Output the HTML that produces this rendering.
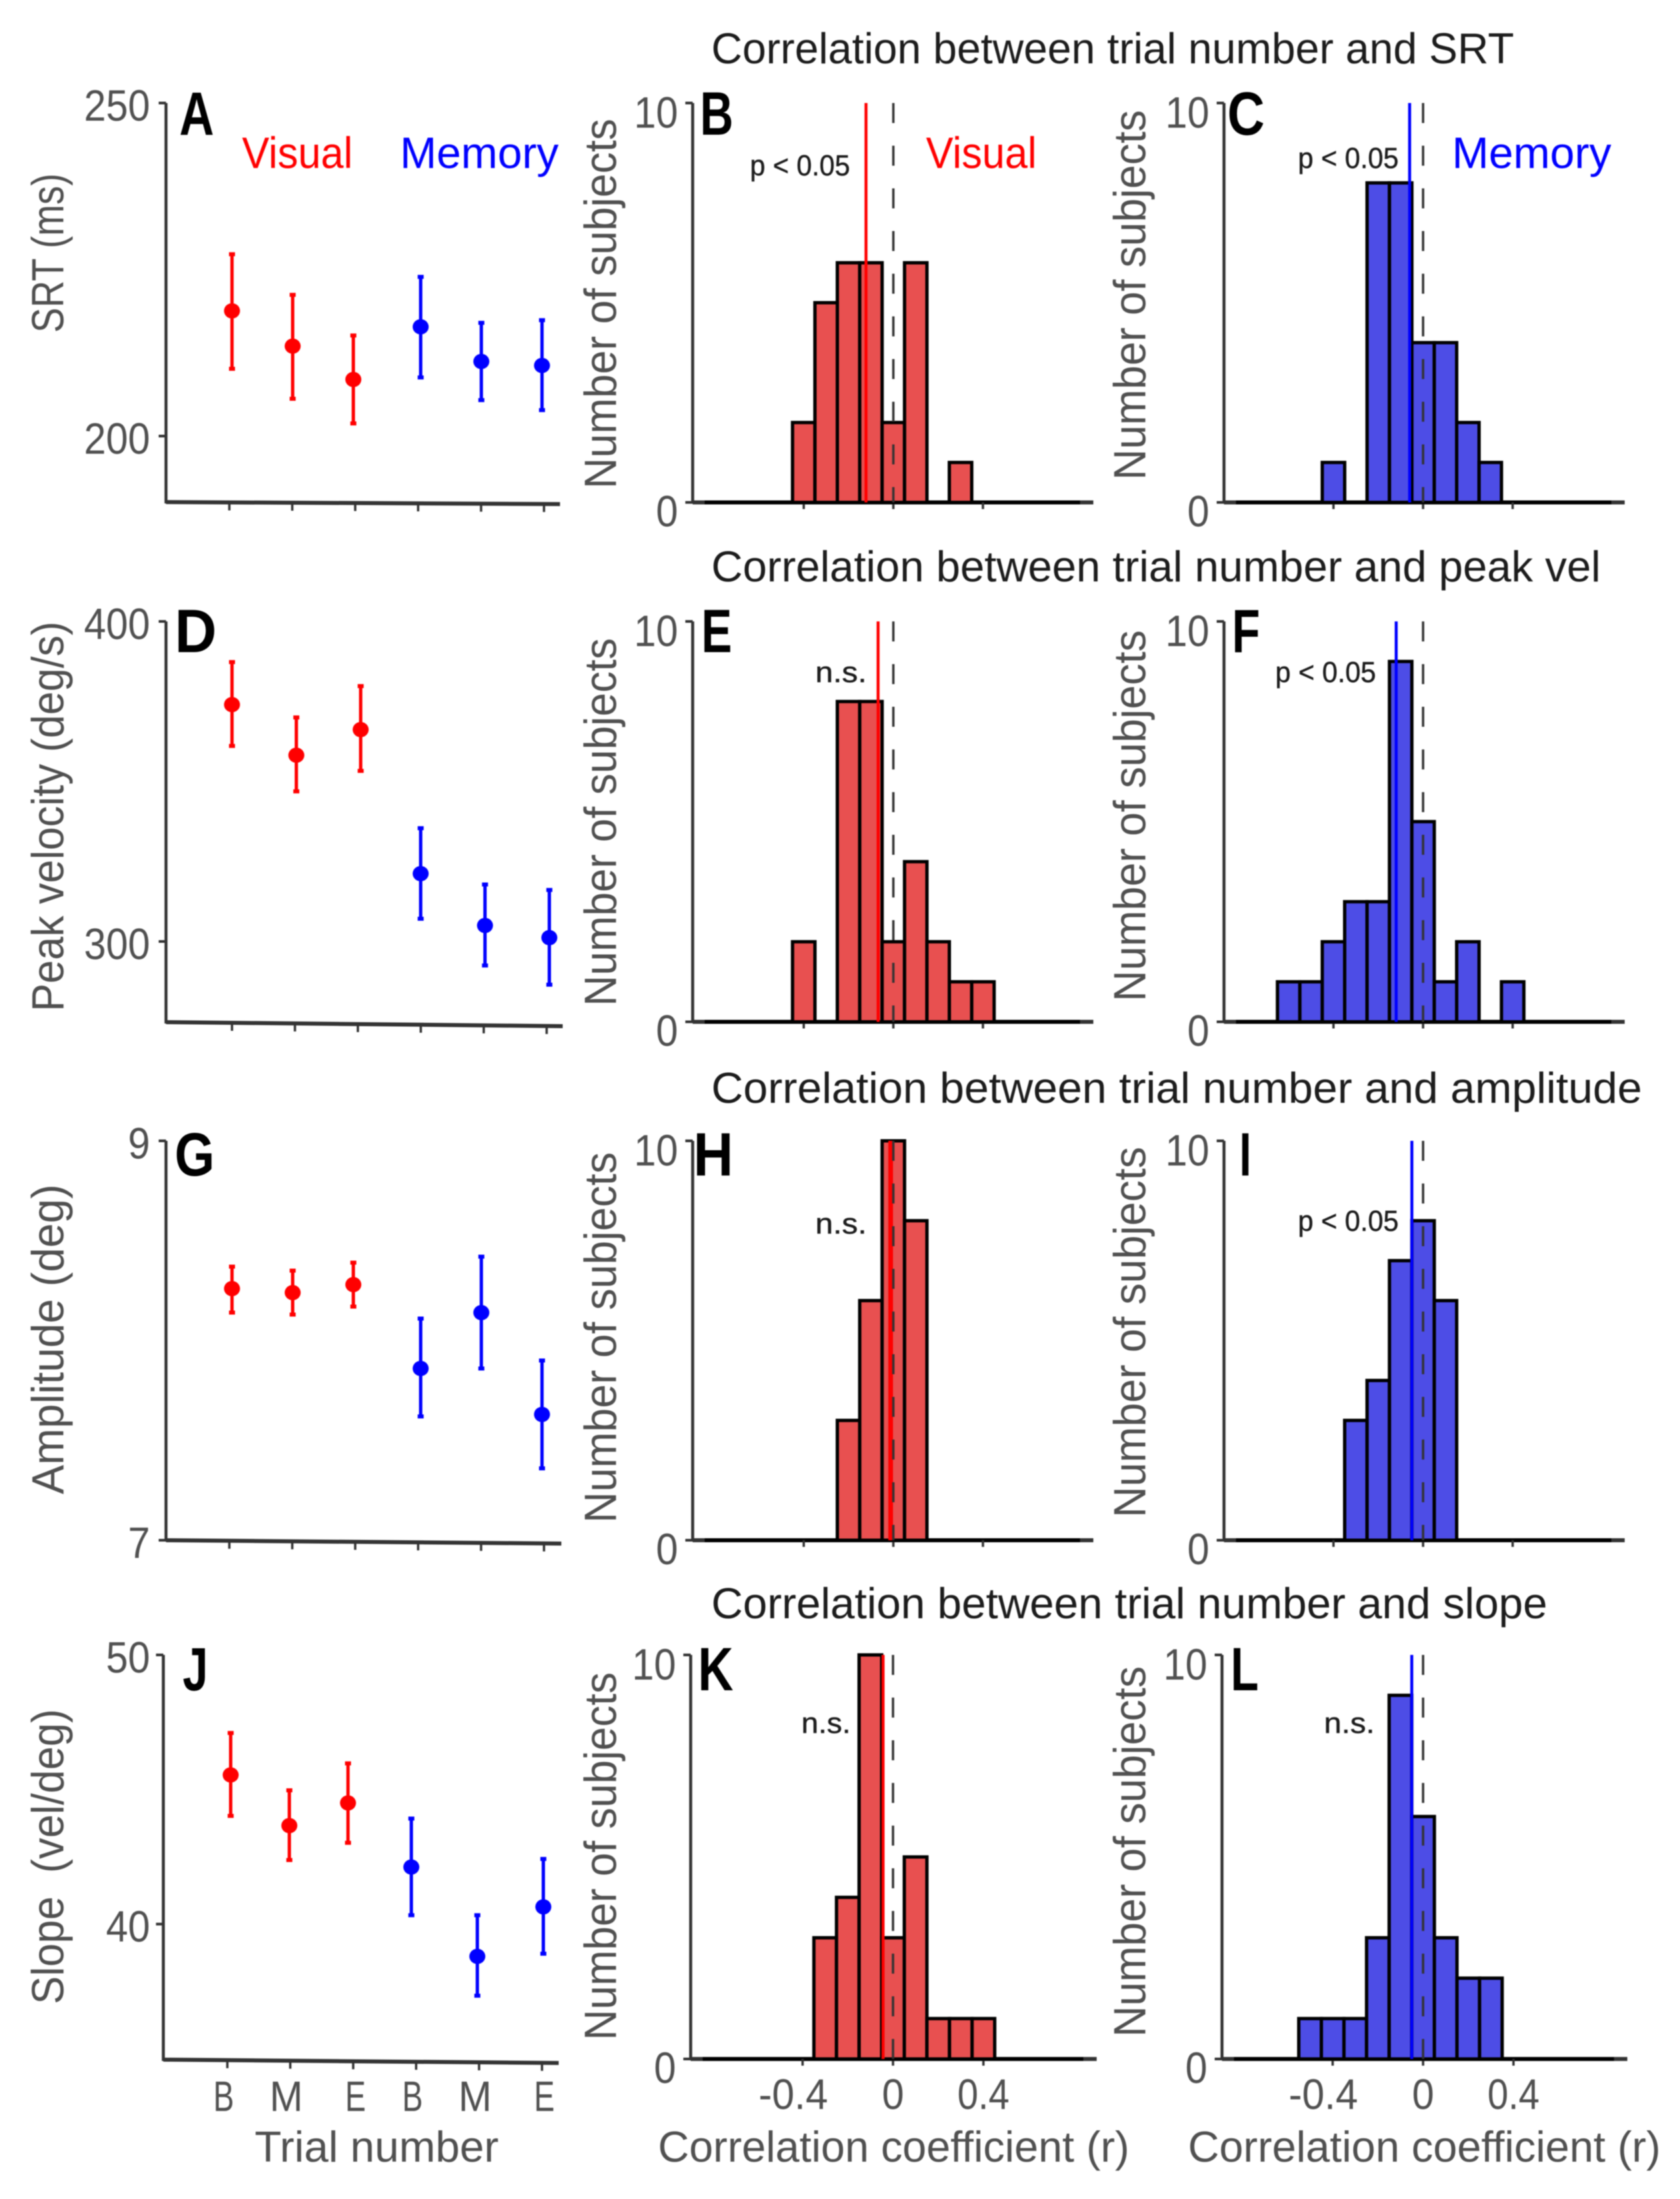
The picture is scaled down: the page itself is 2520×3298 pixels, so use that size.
<!DOCTYPE html>
<html lang="en">
<head>
<meta charset="utf-8">
<title>Correlation between trial number and saccade metrics</title>
<style>
html,body{margin:0;padding:0;background:#fff;}
svg{display:block;filter:blur(0.7px);}
text{font-family:"Liberation Sans",sans-serif;white-space:pre;}
.title{font-size:65px;fill:#1c1c1c;}
.ylab{font-size:68px;fill:#505050;}
.xlab{font-size:65px;fill:#505050;}
.letter{font-size:92px;font-weight:bold;fill:#000;}
.vis{font-size:66px;fill:#f00;}
.mem{font-size:66px;fill:#00f;}
.sig{font-size:44px;fill:#1c1c1c;stroke:#1c1c1c;stroke-width:0.5px;}
</style>
</head>
<body>
<svg id="figure" xmlns="http://www.w3.org/2000/svg" width="2520" height="3298" viewBox="0 0 2520 3298">
<rect x="0" y="0" width="2520" height="3298" fill="#fff"/>
<g id="marks"></g>

<text class="title" x="1067" y="95" textLength="1204" lengthAdjust="spacingAndGlyphs">Correlation between trial number and SRT</text>
<text class="title" x="1067" y="872" textLength="1334" lengthAdjust="spacingAndGlyphs">Correlation between trial number and peak vel</text>
<text class="title" x="1067" y="1654" textLength="1396" lengthAdjust="spacingAndGlyphs">Correlation between trial number and amplitude</text>
<text class="title" x="1067" y="2427" textLength="1254" lengthAdjust="spacingAndGlyphs">Correlation between trial number and slope</text>

<text class="ylab" transform="translate(95,499) rotate(-90)" textLength="239" lengthAdjust="spacingAndGlyphs">SRT (ms)</text>
<text class="ylab" transform="translate(95,1517) rotate(-90)" textLength="585" lengthAdjust="spacingAndGlyphs">Peak velocity (deg/s)</text>
<text class="ylab" transform="translate(95,2241) rotate(-90)" textLength="465" lengthAdjust="spacingAndGlyphs">Amplitude (deg)</text>
<text class="ylab" transform="translate(95,3006) rotate(-90)" textLength="443" lengthAdjust="spacingAndGlyphs">Slope  (vel/deg)</text>

<text class="ylab" transform="translate(924,733) rotate(-90)" textLength="555" lengthAdjust="spacingAndGlyphs">Number of subjects</text>
<text class="ylab" transform="translate(1718,720) rotate(-90)" textLength="555" lengthAdjust="spacingAndGlyphs">Number of subjects</text>
<text class="ylab" transform="translate(924,1509) rotate(-90)" textLength="552" lengthAdjust="spacingAndGlyphs">Number of subjects</text>
<text class="ylab" transform="translate(1718,1502) rotate(-90)" textLength="557" lengthAdjust="spacingAndGlyphs">Number of subjects</text>
<text class="ylab" transform="translate(924,2284) rotate(-90)" textLength="556" lengthAdjust="spacingAndGlyphs">Number of subjects</text>
<text class="ylab" transform="translate(1718,2276) rotate(-90)" textLength="556" lengthAdjust="spacingAndGlyphs">Number of subjects</text>
<text class="ylab" transform="translate(924,3060) rotate(-90)" textLength="552" lengthAdjust="spacingAndGlyphs">Number of subjects</text>
<text class="ylab" transform="translate(1718,3055) rotate(-90)" textLength="556" lengthAdjust="spacingAndGlyphs">Number of subjects</text>

<text class="xlab" x="382" y="3242" textLength="366" lengthAdjust="spacingAndGlyphs">Trial number</text>
<text class="xlab" x="987" y="3242" textLength="707" lengthAdjust="spacingAndGlyphs">Correlation coefficient (r)</text>
<text class="xlab" x="1782" y="3242" textLength="709" lengthAdjust="spacingAndGlyphs">Correlation coefficient (r)</text>

<text class="letter" x="269" y="202" textLength="52" lengthAdjust="spacingAndGlyphs">A</text>
<text class="letter" x="1050" y="202" textLength="50" lengthAdjust="spacingAndGlyphs">B</text>
<text class="letter" x="1841" y="202" textLength="56" lengthAdjust="spacingAndGlyphs">C</text>
<text class="letter" x="262" y="978" textLength="63" lengthAdjust="spacingAndGlyphs">D</text>
<text class="letter" x="1052" y="978" textLength="46" lengthAdjust="spacingAndGlyphs">E</text>
<text class="letter" x="1848" y="978" textLength="42" lengthAdjust="spacingAndGlyphs">F</text>
<text class="letter" x="262" y="1763" textLength="60" lengthAdjust="spacingAndGlyphs">G</text>
<text class="letter" x="1040" y="1763" textLength="60" lengthAdjust="spacingAndGlyphs">H</text>
<text class="letter" x="1859" y="1763" textLength="18" lengthAdjust="spacingAndGlyphs">I</text>
<text class="letter" x="274" y="2535" textLength="38" lengthAdjust="spacingAndGlyphs">J</text>
<text class="letter" x="1047" y="2535" textLength="53" lengthAdjust="spacingAndGlyphs">K</text>
<text class="letter" x="1846" y="2535" textLength="42" lengthAdjust="spacingAndGlyphs">L</text>

<text class="vis" x="363" y="252" textLength="166" lengthAdjust="spacingAndGlyphs">Visual</text>
<text class="mem" x="600" y="252" textLength="238" lengthAdjust="spacingAndGlyphs">Memory</text>
<text class="vis" x="1389" y="252" textLength="166" lengthAdjust="spacingAndGlyphs">Visual</text>
<text class="mem" x="2178" y="252" textLength="239" lengthAdjust="spacingAndGlyphs">Memory</text>

<text class="sig" x="1125" y="263" textLength="150" lengthAdjust="spacingAndGlyphs">p &lt; 0.05</text>
<text class="sig" x="1947" y="252" textLength="151" lengthAdjust="spacingAndGlyphs">p &lt; 0.05</text>
<text class="sig" x="1223" y="1023" textLength="77" lengthAdjust="spacingAndGlyphs">n.s.</text>
<text class="sig" x="1913" y="1023" textLength="151" lengthAdjust="spacingAndGlyphs">p &lt; 0.05</text>
<text class="sig" x="1223" y="1850" textLength="77" lengthAdjust="spacingAndGlyphs">n.s.</text>
<text class="sig" x="1947" y="1846" textLength="151" lengthAdjust="spacingAndGlyphs">p &lt; 0.05</text>
<text class="sig" x="1202" y="2599" textLength="74" lengthAdjust="spacingAndGlyphs">n.s.</text>
<text class="sig" x="1986" y="2599" textLength="76" lengthAdjust="spacingAndGlyphs">n.s.</text>
</svg>

<script>
// ---- Shared categories and tick labels ----
const trialCategories = ["B", "M", "E", "B", "M", "E"];
const trialConditions = ["Visual", "Visual", "Visual", "Memory", "Memory", "Memory"];
const countTicks = [10, 0];
const rTicks = [-0.4, 0, 0.4];
const rTickLabels = ["-0.4", "0", "0.4"];

// ---- Panel A: SRT ----
const srtTicks = [250, 200];
const srtMeans = [218.8, 213.5, 208.5, 216.4, 211.2, 210.6];
const srtHigh = [227.3, 221.2, 215.1, 223.9, 217.0, 217.4];
const srtLow = [210.1, 205.6, 201.9, 208.8, 205.4, 203.9];

// ---- Panel D: Peak velocity ----
const velTicks = [400, 300];
const velMeans = [374.0, 358.2, 366.2, 321.2, 305.0, 301.2];
const velHigh = [387.3, 370.0, 379.8, 335.4, 317.8, 316.1];
const velLow = [361.1, 346.9, 353.3, 307.1, 292.5, 286.5];

// ---- Panel G: Amplitude ----
const ampTicks = [9, 7];
const ampMeans = [8.26, 8.24, 8.28, 7.86, 8.14, 7.63];
const ampHigh = [8.37, 8.35, 8.39, 8.11, 8.42, 7.90];
const ampLow = [8.14, 8.13, 8.17, 7.62, 7.86, 7.36];

// ---- Panel J: Slope ----
const slopeTicks = [50, 40];
const slopeMeans = [45.54, 43.66, 44.50, 42.12, 38.80, 40.64];
const slopeHigh = [47.10, 44.97, 45.97, 43.92, 40.33, 42.42];
const slopeLow = [44.02, 42.38, 43.02, 40.33, 37.34, 38.90];

// ---- Histograms: bin centres (r), counts, mean r ----
const binsB = [-0.4, -0.3, -0.2, -0.1, 0, 0.1, 0.2, 0.3];
const countsB = [2, 5, 6, 6, 2, 6, 0, 1];
const meanB = -0.122;

const binsC = [-0.4, -0.3, -0.2, -0.1, 0, 0.1, 0.2, 0.3];
const countsC = [1, 0, 8, 8, 4, 4, 2, 1];
const meanC = -0.06;

const binsE = [-0.4, -0.3, -0.2, -0.1, 0, 0.1, 0.2, 0.3, 0.4];
const countsE = [2, 0, 8, 8, 2, 4, 2, 1, 1];
const meanE = -0.068;

const binsF = [-0.6, -0.5, -0.4, -0.3, -0.2, -0.1, 0, 0.1, 0.2, 0.3, 0.4];
const countsF = [1, 1, 2, 3, 3, 9, 5, 1, 2, 0, 1];
const meanF = -0.12;

const binsH = [-0.2, -0.1, 0, 0.1];
const countsH = [3, 6, 10, 8];
const meanH = -0.012;

const binsI = [-0.3, -0.2, -0.1, 0, 0.1];
const countsI = [3, 4, 7, 8, 6];
const meanI = -0.05;

const binsK = [-0.3, -0.2, -0.1, 0, 0.1, 0.2, 0.3, 0.4];
const countsK = [3, 4, 10, 3, 5, 1, 1, 1];
const meanK = -0.044;

const binsL = [-0.5, -0.4, -0.3, -0.2, -0.1, 0, 0.1, 0.2, 0.3];
const countsL = [1, 1, 1, 3, 9, 6, 3, 2, 2];
const meanL = -0.05;

const SVGNS = "http://www.w3.org/2000/svg";
const marks = document.getElementById("marks");
const AXIS_GRAY = "#333";
const LABEL_GRAY = "#505050";
const BIN_WIDTH = 0.1;

function addGroup(parent, name) {
  const el = document.createElementNS(SVGNS, "g");
  
  
  parent.appendChild(el);
  return el;
}

function addLine(parent, name, x1, y1, x2, y2, stroke, width, dash) {
  const el = document.createElementNS(SVGNS, "line");
  
  
  el.setAttribute("x1", x1);
  el.setAttribute("y1", y1);
  el.setAttribute("x2", x2);
  el.setAttribute("y2", y2);
  el.setAttribute("stroke", stroke);
  el.setAttribute("stroke-width", width);
  if (dash) el.setAttribute("stroke-dasharray", dash);
  parent.appendChild(el);
  return el;
}

function addRect(parent, name, x, y, w, h, fill) {
  const el = document.createElementNS(SVGNS, "rect");
  
  
  el.setAttribute("x", x);
  el.setAttribute("y", y);
  el.setAttribute("width", w);
  el.setAttribute("height", h);
  el.setAttribute("fill", fill);
  el.setAttribute("stroke", "#000");
  el.setAttribute("stroke-width", 5);
  parent.appendChild(el);
  return el;
}

function addDot(parent, name, cx, cy, rx, ry, fill) {
  const el = document.createElementNS(SVGNS, "ellipse");
  
  
  el.setAttribute("cx", cx);
  el.setAttribute("cy", cy);
  el.setAttribute("rx", rx);
  el.setAttribute("ry", ry);
  el.setAttribute("fill", fill);
  parent.appendChild(el);
  return el;
}

function labelWidth(str) {
  let w = 0;
  for (const ch of str) w += ch === "." ? 12 : ch === "-" ? 26 : 33;
  return w;
}

function addTickText(parent, name, str, x, y, size, width) {
  const el = document.createElementNS(SVGNS, "text");
  
  
  el.setAttribute("x", x);
  el.setAttribute("y", y);
  el.setAttribute("font-size", size);
  el.setAttribute("fill", LABEL_GRAY);
  el.setAttribute("textLength", width);
  el.setAttribute("lengthAdjust", "spacingAndGlyphs");
  el.textContent = str;
  parent.appendChild(el);
  return el;
}

function linearScale(v0, p0, v1, p1) {
  return v => p0 + (v - v0) * (p1 - p0) / (v1 - v0);
}

function categoryOffset(cat) {
  return cat === "M" ? -31 : cat === "E" ? -12 : -21;
}

function drawErrorPanel(name, cfg, ticks, means, high, low, showCategories) {
  const g = addGroup(marks, name);
  const y = linearScale(cfg.vHi, cfg.pxHi, cfg.vLo, cfg.pxLo);
  const baseAt = x => cfg.base + (x - cfg.axisX) * cfg.tilt / (cfg.endX - cfg.axisX);
  addLine(g, "y-axis", cfg.axisX, cfg.pxHi, cfg.axisX, cfg.base + 2, AXIS_GRAY, 4.5);
  addLine(g, "x-axis", cfg.axisX, cfg.base, cfg.endX, cfg.base + cfg.tilt, AXIS_GRAY, 6);
  ticks.forEach(v => {
    addLine(g, "y-tick", cfg.axisX - 11, y(v), cfg.axisX, y(v), AXIS_GRAY, 4);
    const s = String(v);
    const w = labelWidth(s);
    addTickText(g, "y-tick-label", s, 225 - w, y(v) + 26.5, 66, w);
  });
  trialCategories.forEach((cat, i) => {
    const tx = cfg.tickX0 + i * cfg.tickStep;
    addLine(g, "x-tick", tx, baseAt(tx), tx, baseAt(tx) + 12, AXIS_GRAY, 3.5);
    if (showCategories) {
      const w = cat === "M" ? 50 : 31;
      addTickText(g, "x-tick-label", cat, tx + categoryOffset(cat), 3166, 64, w);
    }
  });
  means.forEach((m, i) => {
    const isVisual = trialConditions[i] === "Visual";
    const color = isVisual ? "#f00" : "#00f";
    const px = isVisual ? cfg.visX0 + i * cfg.visStep : cfg.memX0 + (i - 3) * cfg.memStep;
    addLine(g, "error-bar", px, y(high[i]), px, y(low[i]), color, 5);
    addLine(g, "error-cap-high", px - 4.5, y(high[i]), px + 4.5, y(high[i]), color, 6);
    addLine(g, "error-cap-low", px - 4.5, y(low[i]), px + 4.5, y(low[i]), color, 6);
    addDot(g, "mean-point", px, y(m), 12, 11.5, color);
  });
}

function drawHistogram(name, cfg, bins, counts, meanR, showXLabels) {
  const g = addGroup(marks, name);
  const x = linearScale(0, cfg.zeroX, 1, cfg.zeroX + cfg.rScale);
  const y = linearScale(0, cfg.base, 10, cfg.top);
  const fill = cfg.blue ? "#4d4de6" : "#e85050";
  const meanColor = cfg.blue ? "#00f" : "#f00";
  addLine(g, "y-axis", cfg.axisX, cfg.top, cfg.axisX, cfg.base, AXIS_GRAY, 4.5);
  addLine(g, "x-axis", cfg.axisX, cfg.base, cfg.endX, cfg.base, AXIS_GRAY, 6);
  addLine(g, "x-axis-dark", cfg.axisX + 18, cfg.base, cfg.endX - 20, cfg.base, "#000", 6);
  countTicks.forEach(v => {
    addLine(g, "y-tick", cfg.axisX - 11, y(v), cfg.axisX, y(v), AXIS_GRAY, 4);
    const s = String(v);
    const w = labelWidth(s);
    addTickText(g, "y-tick-label", s, cfg.axisX - 22 - w, y(v) + (v === 0 ? 36 : 37), 66, w);
  });
  rTicks.forEach((r, i) => {
    addLine(g, "x-tick", x(r), cfg.base, x(r), cfg.base + 10, AXIS_GRAY, 3.5);
    if (showXLabels) {
      const s = rTickLabels[i];
      const w = labelWidth(s);
      const shift = r < 0 ? -14 : 0;
      addTickText(g, "x-tick-label", s, x(r) - w / 2 + shift, 3163, 64, w);
    }
  });
  bins.forEach((b, i) => {
    if (counts[i] <= 0) return;
    const left = x(b - BIN_WIDTH / 2);
    const right = x(b + BIN_WIDTH / 2);
    addRect(g, "histogram-bar", left, y(counts[i]), right - left, cfg.base - y(counts[i]), fill);
  });
  addLine(g, "mean-line", x(meanR), cfg.top, x(meanR), cfg.base, meanColor, cfg.meanWidth || 4.5);
  addLine(g, "zero-line", cfg.zeroX, cfg.top, cfg.zeroX, cfg.base, "#333", 3.5, "30 34");
}

drawErrorPanel("panel-a-srt", {axisX:249, endX:840, base:753, tilt:3, vHi:250, pxHi:154.5, vLo:200, pxLo:654,
  tickX0:344, tickStep:94.4, visX0:348, visStep:91, memX0:631, memStep:91}, srtTicks, srtMeans, srtHigh, srtLow, false);
drawErrorPanel("panel-d-peak-velocity", {axisX:249, endX:844, base:1533, tilt:6, vHi:400, pxHi:932, vLo:300, pxLo:1412,
  tickX0:348, tickStep:94.4, visX0:348, visStep:96.5, memX0:631, memStep:96.5}, velTicks, velMeans, velHigh, velLow, false);
drawErrorPanel("panel-g-amplitude", {axisX:249, endX:842, base:2310, tilt:5, vHi:9, pxHi:1711, vLo:7, pxLo:2310,
  tickX0:344, tickStep:94.4, visX0:348, visStep:91, memX0:631, memStep:91}, ampTicks, ampMeans, ampHigh, ampLow, false);
drawErrorPanel("panel-j-slope", {axisX:245, endX:838, base:3089, tilt:5, vHi:50, pxHi:2482, vLo:40, pxLo:2885.7,
  tickX0:341, tickStep:94.4, visX0:346, visStep:88, memX0:617, memStep:99}, slopeTicks, slopeMeans, slopeHigh, slopeLow, true);

drawHistogram("panel-b-histogram", {axisX:1039, endX:1640, top:154.5, base:753.5, zeroX:1340, rScale:336}, binsB, countsB, meanB, false);
drawHistogram("panel-c-histogram", {axisX:1836, endX:2437, top:154.5, base:753.5, zeroX:2134.6, rScale:336, blue:true}, binsC, countsC, meanC, false);
drawHistogram("panel-e-histogram", {axisX:1039, endX:1640, top:932, base:1532.5, zeroX:1340, rScale:336}, binsE, countsE, meanE, false);
drawHistogram("panel-f-histogram", {axisX:1836, endX:2437, top:932, base:1532.5, zeroX:2134.6, rScale:336, blue:true}, binsF, countsF, meanF, false);
drawHistogram("panel-h-histogram", {axisX:1039, endX:1640, top:1711, base:2310, zeroX:1340, rScale:336, meanWidth:7}, binsH, countsH, meanH, false);
drawHistogram("panel-i-histogram", {axisX:1836, endX:2437, top:1711, base:2310, zeroX:2134.6, rScale:336, blue:true}, binsI, countsI, meanI, false);
drawHistogram("panel-k-histogram", {axisX:1036, endX:1645, top:2482, base:3088, zeroX:1339.5, rScale:339}, binsK, countsK, meanK, true);
drawHistogram("panel-l-histogram", {axisX:1833, endX:2441, top:2482, base:3088, zeroX:2134.6, rScale:339, blue:true}, binsL, countsL, meanL, true);
</script>
</body>
</html>
